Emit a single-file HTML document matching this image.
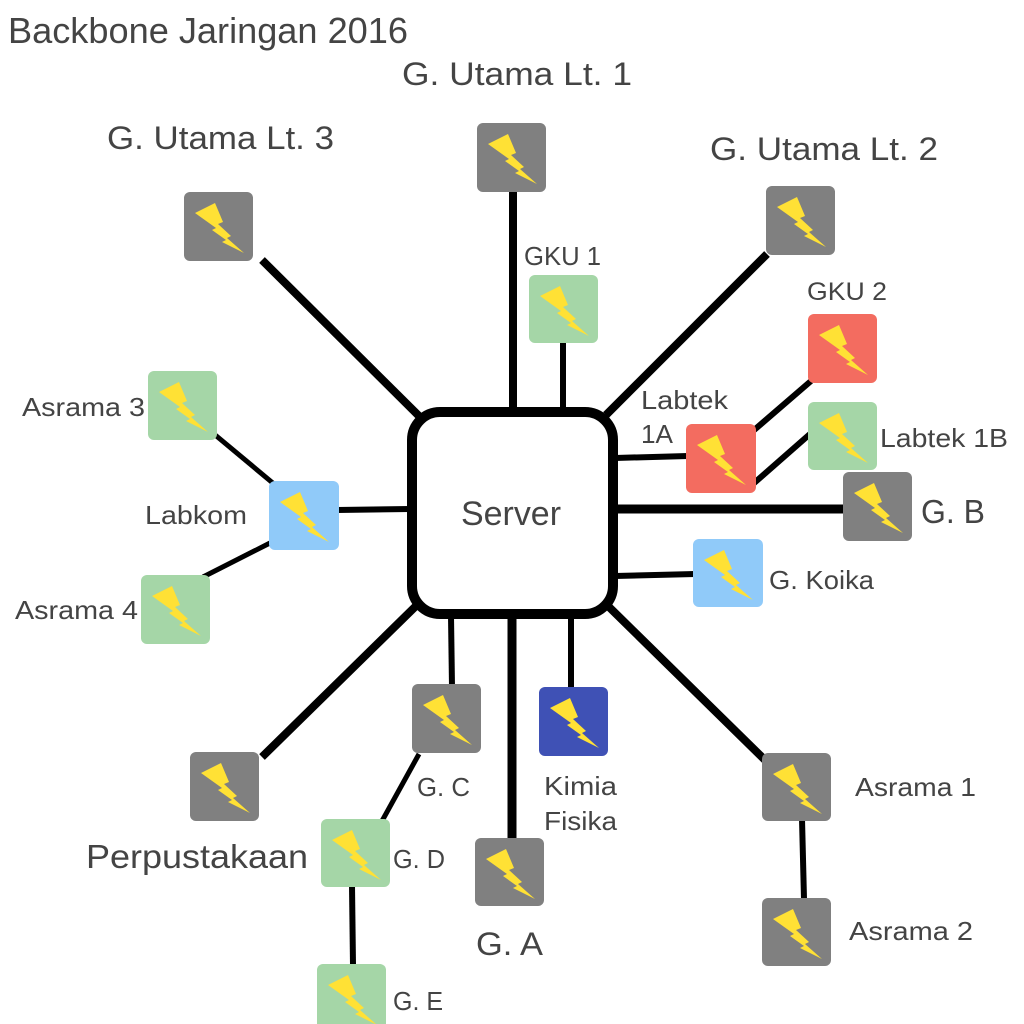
<!DOCTYPE html>
<html>
<head>
<meta charset="utf-8">
<style>
  html, body { margin: 0; padding: 0; background: #ffffff; }
  svg { display: block; }
  text { font-family: "Liberation Sans", "DejaVu Sans", sans-serif; fill: #444444; }
</style>
</head>
<body>
<svg width="1024" height="1024" viewBox="0 0 1024 1024" xmlns="http://www.w3.org/2000/svg">
  <defs>
    <g id="bolt">
      <path d="M11,21 L31,11 L39,30 L34,32 L47,44 L43,46 L60,61 L38,50 L42,48 L28,38 L32,36 Z" fill="#FFE135"/>
    </g>
  </defs>
  <rect x="0" y="0" width="1024" height="1024" fill="#ffffff"/>

  <!-- connectors -->
  <g stroke="#000" stroke-linecap="butt" fill="none">
    <!-- thick -->
    <line x1="513" y1="190" x2="513" y2="410" stroke-width="8"/>
    <line x1="262" y1="260" x2="421" y2="418" stroke-width="8"/>
    <line x1="767" y1="254" x2="606" y2="415" stroke-width="8"/>
    <line x1="615" y1="509" x2="845" y2="509" stroke-width="9"/>
    <line x1="262" y1="757" x2="419" y2="603" stroke-width="8"/>
    <line x1="512" y1="616" x2="512" y2="841" stroke-width="9"/>
    <line x1="606" y1="604" x2="767" y2="762" stroke-width="8"/>
    <!-- thin -->
    <line x1="563" y1="341" x2="563" y2="410" stroke-width="6"/>
    <line x1="615" y1="458" x2="688" y2="456" stroke-width="6"/>
    <line x1="753" y1="431" x2="811" y2="381" stroke-width="6"/>
    <line x1="753" y1="484" x2="810" y2="434" stroke-width="6"/>
    <line x1="615" y1="576" x2="695" y2="574" stroke-width="6"/>
    <line x1="337" y1="510" x2="410" y2="509" stroke-width="6"/>
    <line x1="214" y1="434" x2="274" y2="484" stroke-width="5"/>
    <line x1="203" y1="577" x2="270" y2="543" stroke-width="5"/>
    <line x1="451" y1="616" x2="452" y2="687" stroke-width="6"/>
    <line x1="571" y1="616" x2="571" y2="690" stroke-width="6"/>
    <line x1="802" y1="819" x2="804" y2="899" stroke-width="6"/>
    <line x1="419" y1="754" x2="382" y2="821" stroke-width="5"/>
    <line x1="352" y1="886" x2="353" y2="965" stroke-width="6"/>
  </g>

  <!-- server -->
  <rect x="412" y="412" width="201" height="202" rx="28" ry="28" fill="#ffffff" stroke="#000" stroke-width="10"/>
  <text x="461" y="525" font-size="34" textLength="100" lengthAdjust="spacingAndGlyphs">Server</text>

  <!-- nodes -->
  <g>
    <g transform="translate(477,123)"><rect width="69" height="69" rx="6" fill="#808080"/><use href="#bolt"/></g>
    <g transform="translate(529,275)"><rect width="69" height="68" rx="6" fill="#A5D6A7"/><use href="#bolt"/></g>
    <g transform="translate(184,192)"><rect width="69" height="69" rx="6" fill="#808080"/><use href="#bolt"/></g>
    <g transform="translate(766,186)"><rect width="69" height="69" rx="6" fill="#808080"/><use href="#bolt"/></g>
    <g transform="translate(808,314)"><rect width="69" height="69" rx="6" fill="#F36C60"/><use href="#bolt"/></g>
    <g transform="translate(686,424)"><rect width="70" height="69" rx="6" fill="#F36C60"/><use href="#bolt"/></g>
    <g transform="translate(808,402)"><rect width="69" height="68" rx="6" fill="#A5D6A7"/><use href="#bolt"/></g>
    <g transform="translate(843,472)"><rect width="69" height="69" rx="6" fill="#808080"/><use href="#bolt"/></g>
    <g transform="translate(693,539)"><rect width="70" height="68" rx="6" fill="#90CAF9"/><use href="#bolt"/></g>
    <g transform="translate(148,371)"><rect width="69" height="69" rx="6" fill="#A5D6A7"/><use href="#bolt"/></g>
    <g transform="translate(269,481)"><rect width="70" height="69" rx="6" fill="#90CAF9"/><use href="#bolt"/></g>
    <g transform="translate(141,575)"><rect width="69" height="69" rx="6" fill="#A5D6A7"/><use href="#bolt"/></g>
    <g transform="translate(190,752)"><rect width="69" height="69" rx="6" fill="#808080"/><use href="#bolt"/></g>
    <g transform="translate(412,684)"><rect width="69" height="69" rx="6" fill="#808080"/><use href="#bolt"/></g>
    <g transform="translate(539,687)"><rect width="69" height="69" rx="6" fill="#3F51B5"/><use href="#bolt"/></g>
    <g transform="translate(321,819)"><rect width="69" height="68" rx="6" fill="#A5D6A7"/><use href="#bolt"/></g>
    <g transform="translate(475,838)"><rect width="69" height="68" rx="6" fill="#808080"/><use href="#bolt"/></g>
    <g transform="translate(317,964)"><rect width="69" height="69" rx="6" fill="#A5D6A7"/><use href="#bolt"/></g>
    <g transform="translate(762,753)"><rect width="69" height="68" rx="6" fill="#808080"/><use href="#bolt"/></g>
    <g transform="translate(762,898)"><rect width="69" height="68" rx="6" fill="#808080"/><use href="#bolt"/></g>
  </g>

  <!-- labels -->
  <text x="8" y="43" font-size="36" textLength="400" lengthAdjust="spacingAndGlyphs">Backbone Jaringan 2016</text>
  <text x="402" y="85" font-size="32" textLength="230" lengthAdjust="spacingAndGlyphs">G. Utama Lt. 1</text>
  <text x="107" y="149" font-size="32" textLength="227" lengthAdjust="spacingAndGlyphs">G. Utama Lt. 3</text>
  <text x="710" y="160" font-size="32" textLength="228" lengthAdjust="spacingAndGlyphs">G. Utama Lt. 2</text>
  <text x="524" y="265" font-size="26" textLength="77" lengthAdjust="spacingAndGlyphs">GKU 1</text>
  <text x="807" y="300" font-size="25" textLength="80" lengthAdjust="spacingAndGlyphs">GKU 2</text>
  <text x="641" y="409" font-size="26" textLength="87" lengthAdjust="spacingAndGlyphs">Labtek</text>
  <text x="641" y="443" font-size="26" textLength="32" lengthAdjust="spacingAndGlyphs">1A</text>
  <text x="880" y="447" font-size="26" textLength="128" lengthAdjust="spacingAndGlyphs">Labtek 1B</text>
  <text x="921" y="523" font-size="33" textLength="64" lengthAdjust="spacingAndGlyphs">G. B</text>
  <text x="769" y="589" font-size="26" textLength="105" lengthAdjust="spacingAndGlyphs">G. Koika</text>
  <text x="22" y="416" font-size="26" textLength="123" lengthAdjust="spacingAndGlyphs">Asrama 3</text>
  <text x="145" y="524" font-size="26" textLength="102" lengthAdjust="spacingAndGlyphs">Labkom</text>
  <text x="15" y="619" font-size="26" textLength="123" lengthAdjust="spacingAndGlyphs">Asrama 4</text>
  <text x="86" y="868" font-size="33" textLength="222" lengthAdjust="spacingAndGlyphs">Perpustakaan</text>
  <text x="417" y="796" font-size="26" textLength="53" lengthAdjust="spacingAndGlyphs">G. C</text>
  <text x="393" y="868" font-size="26" textLength="52" lengthAdjust="spacingAndGlyphs">G. D</text>
  <text x="393" y="1010" font-size="26" textLength="50" lengthAdjust="spacingAndGlyphs">G. E</text>
  <text x="544" y="795" font-size="26" textLength="73" lengthAdjust="spacingAndGlyphs">Kimia</text>
  <text x="544" y="830" font-size="26" textLength="73" lengthAdjust="spacingAndGlyphs">Fisika</text>
  <text x="476" y="955" font-size="32" textLength="67" lengthAdjust="spacingAndGlyphs">G. A</text>
  <text x="855" y="796" font-size="26" textLength="121" lengthAdjust="spacingAndGlyphs">Asrama 1</text>
  <text x="849" y="940" font-size="26" textLength="124" lengthAdjust="spacingAndGlyphs">Asrama 2</text>
</svg>
</body>
</html>
